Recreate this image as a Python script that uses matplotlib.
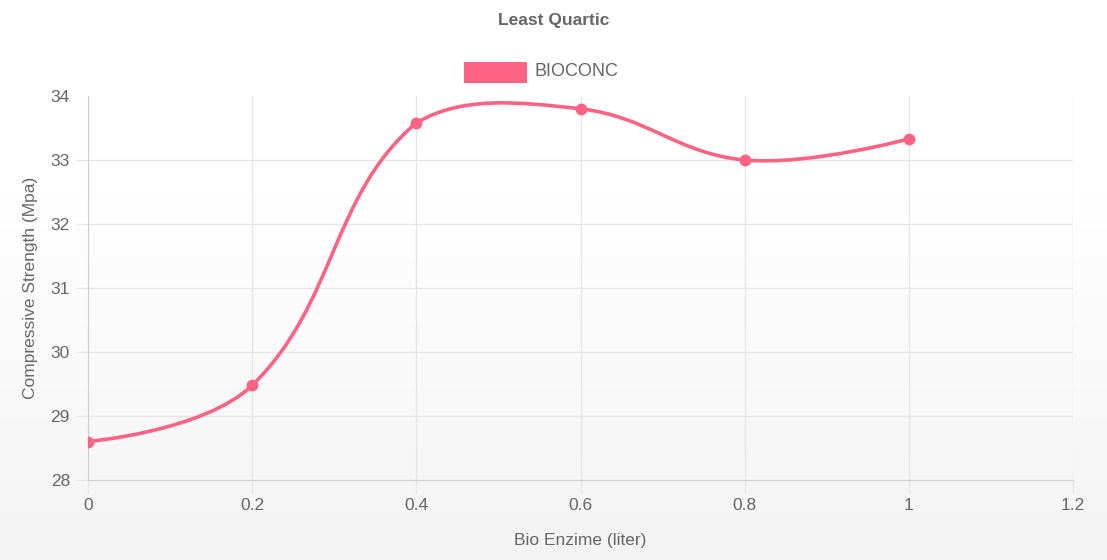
import numpy as np
import matplotlib
matplotlib.use('Agg')
import matplotlib.pyplot as plt
from matplotlib.path import Path
from matplotlib.patches import PathPatch, Rectangle

plt.rcParams['font.family'] = ['Liberation Sans', 'DejaVu Sans']

bio_enzime = [0, 0.2, 0.4, 0.6, 0.8, 1.0]
strength = [28.6, 29.48, 33.58, 33.8, 33.0, 33.33]
x_ticks = [0, 0.2, 0.4, 0.6, 0.8, 1, 1.2]
x_tick_labels = ['0', '0.2', '0.4', '0.6', '0.8', '1', '1.2']
y_ticks = [28, 29, 30, 31, 32, 33, 34]

pink = '#ff6384'
txt = '#666666'
grid_c = '#e6e6e6'


def spline_path(ax, xs, ys, tension=0.4):
    # chart.js style curve, control points worked out in pixel space
    pts = ax.transData.transform(np.column_stack([xs, ys]))
    box = ax.bbox
    n = len(pts)
    cps = []
    for i in range(n):
        p = pts[i]
        if i == 0 or i == n - 1:
            cps.append((p, p))
            continue
        a, c = pts[i - 1], pts[i + 1]
        d01 = np.hypot(*(p - a))
        d12 = np.hypot(*(c - p))
        fa = tension * d01 / (d01 + d12)
        fb = tension * d12 / (d01 + d12)
        cps.append((p - fa * (c - a), p + fb * (c - a)))
    # keep control points inside the chart area
    clip = lambda q: np.array([np.clip(q[0], box.x0, box.x1), np.clip(q[1], box.y0, box.y1)])
    cps = [(clip(u), clip(v)) for u, v in cps]
    verts = [pts[0]]
    codes = [Path.MOVETO]
    for i in range(n - 1):
        verts += [cps[i][1], cps[i + 1][0], pts[i + 1]]
        codes += [Path.CURVE4] * 3
    inv = ax.transData.inverted()
    return Path(inv.transform(np.array(verts)), codes)


fig = plt.figure(figsize=(11.07, 5.6), dpi=100)

# soft gradient in the background
bg = fig.add_axes([0, 0, 1, 1], zorder=-10)
g = np.linspace(0, 1, 256).reshape(-1, 1)
shade = 1.0 - 0.045 * np.clip((g - 0.35) / 0.65, 0, 1)
bg.imshow(np.dstack([shade, shade, shade]), aspect='auto', extent=[0, 1, 0, 1])
bg.axis('off')

ax = fig.add_axes([88 / 1107, 80 / 560, (1073 - 88) / 1107, (480 - 96) / 560])
ax.patch.set_alpha(0)
ax.set_xlim(0, 1.2)
ax.set_ylim(28, 34)
ax.set_xticks(x_ticks)
ax.set_xticklabels(x_tick_labels)
ax.set_yticks(y_ticks)
ax.grid(True, color=grid_c, linewidth=1)
ax.tick_params(colors=grid_c, labelcolor=txt, labelsize=12.5, length=9, width=1, pad=4)
ax.yaxis.get_major_ticks()[-1].tick1line.set_visible(False)
ax.get_ygridlines()[-1].set_visible(False)
for s in ['top', 'right']:
    ax.spines[s].set_visible(False)
for s in ['left', 'bottom']:
    ax.spines[s].set_color('#cfcfcf')

ax.set_xlabel('Bio Enzime (liter)', color=txt, fontsize=12.5, labelpad=14)
ax.set_ylabel('Compressive Strength (Mpa)', color=txt, fontsize=12.5, labelpad=9)

fig.canvas.draw()
path = spline_path(ax, bio_enzime, strength)
ax.add_patch(PathPatch(path, facecolor='none', edgecolor=pink, linewidth=2.6,
                       capstyle='round', joinstyle='round', zorder=3))
ax.plot(bio_enzime, strength, 'o', color=pink, markersize=7.5, zorder=4)

fig.text(0.5, 1 - 21 / 560, 'Least Quartic', ha='center', va='center',
         fontsize=12.5, fontweight='bold', color=txt)
fig.patches.append(Rectangle((464 / 1107, 1 - 83 / 560), 63 / 1107, 21 / 560,
                             transform=fig.transFigure, facecolor=pink,
                             edgecolor='none'))
fig.text(535 / 1107, 1 - 72 / 560, 'BIOCONC', ha='left', va='center',
         fontsize=13, color=txt)

fig.savefig('out.png', dpi=100)
